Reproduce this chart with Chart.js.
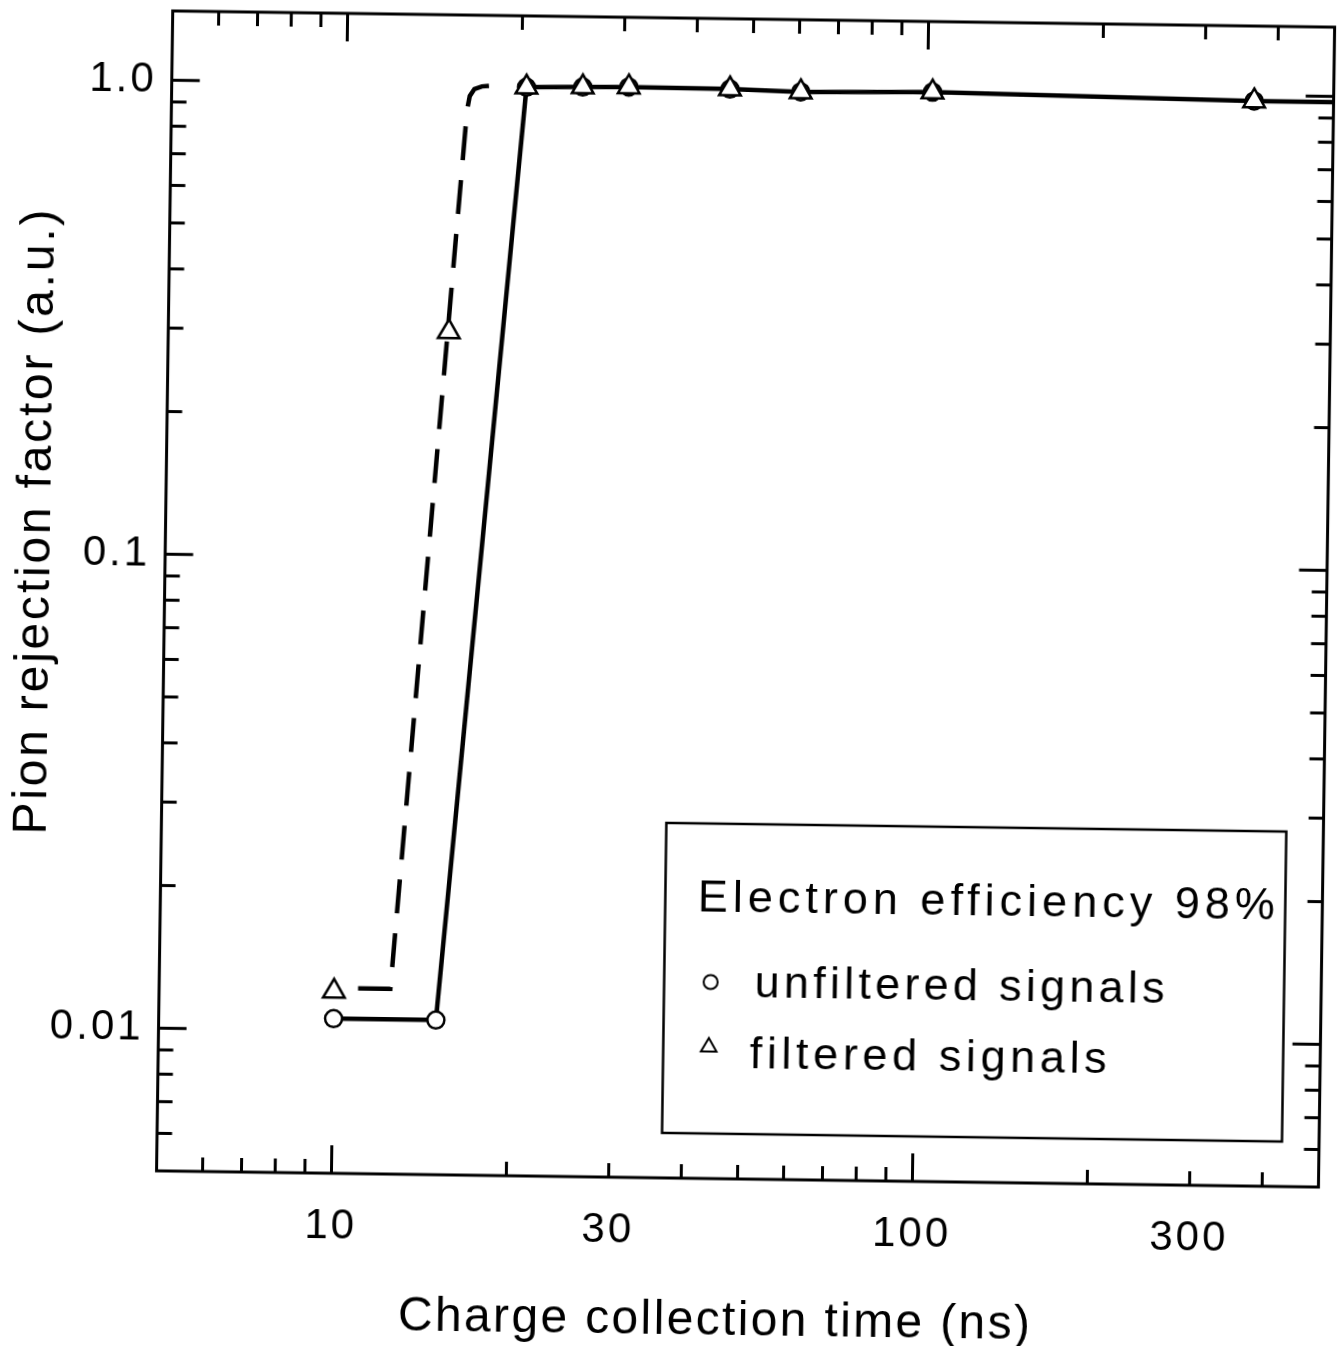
<!DOCTYPE html>
<html><head><meta charset="utf-8">
<script src="https://cdn.jsdelivr.net/npm/chart.js@4.4.1/dist/chart.umd.min.js"></script>
<style>
html,body{margin:0;padding:0;background:#fff;overflow:hidden;}
#wrap{position:absolute;left:0;top:0;width:1337px;height:1346px;transform:rotate(0.8deg);transform-origin:745px 599px;}
canvas{display:block;}
</style></head><body>
<div id="wrap"><canvas id="c" width="1337" height="1346"></canvas></div>
<script>
// ---- texts ----
const xAxisTitle = 'Charge collection time (ns)';
const yAxisTitle = 'Pion rejection factor (a.u.)';
const legendTitle = 'Electron efficiency 98%';
const seriesNames = ['unfiltered signals', 'filtered signals'];

// ---- measured points ----
const unfilteredTime      = [10, 15, 20.4, 25.5, 30.6, 45.7, 60.5, 102, 365];
const unfilteredRejection = [0.0106, 0.0106, 0.99, 0.995, 0.998, 0.995, 0.986, 0.994, 0.973];
const filteredTime        = [10, 15.2, 20.4, 25.5, 30.6, 45.7, 60.5, 102, 365];
const filteredRejection   = [0.0121, 0.30, 0.99, 0.995, 0.998, 0.995, 0.986, 0.994, 0.973];

// ---- drawn curves (vertices) ----
const solidCurveTime       = [10, 15, 20.4, 25.5, 30.6, 45.7, 60.5, 102, 365, 500];
const solidCurveRejection  = [0.0106, 0.0106, 0.99, 0.995, 0.998, 0.995, 0.986, 0.994, 0.973, 0.972];
const dashedCurveTime      = [11.0, 12.5, 16.14, 16.3, 16.6, 17.1, 18.2];
const dashedCurveRejection = [0.0123, 0.0123, 0.883, 0.945, 0.978, 0.991, 0.9975];

// ---- axes ----
const xTickValues = [10, 30, 100, 300];
const xTickLabels = ['10', '30', '100', '300'];
const yTickValues = [0.01, 0.1, 1];
const yTickLabels = ['0.01', '0.1', '1.0'];
const xMajorTicks = [10, 100];
const xMinorTicks = [6, 7, 8, 9, 20, 30, 40, 50, 60, 70, 80, 90, 200, 300, 400];
const yMajorTicks = [0.01, 0.1, 1];
const yMinorTicks = [0.006, 0.007, 0.008, 0.009, 0.02, 0.03, 0.04, 0.05, 0.06, 0.07, 0.08, 0.09,
                     0.2, 0.3, 0.4, 0.5, 0.6, 0.7, 0.8, 0.9];

const FONT = "'Liberation Sans', Arial, sans-serif";
const toXY = (xs, ys) => xs.map((x, i) => ({x: x, y: ys[i]}));

function spacedText(ctx, text, x, y, target, font, align) {
  ctx.font = font;
  if ('letterSpacing' in ctx) ctx.letterSpacing = '0px';
  const natural = ctx.measureText(text).width;
  const start = align === 'center' ? x - target / 2 : x;
  ctx.textAlign = 'left';
  ctx.textBaseline = 'alphabetic';
  if ('letterSpacing' in ctx) {
    const ls = (target - natural) / (text.length - 1);
    ctx.letterSpacing = ls + 'px';
    ctx.fillText(text, start, y);
    ctx.letterSpacing = '0px';
  } else {
    ctx.save();
    ctx.translate(start, y);
    ctx.scale(target / natural, 1);
    ctx.fillText(text, 0, 0);
    ctx.restore();
  }
}

const framePlugin = {
  id: 'frame',
  beforeDraw(chart) { if ('letterSpacing' in chart.ctx) chart.ctx.letterSpacing = '3px'; },
  afterDraw(chart) {
    const {ctx, chartArea: a, scales: {x, y}} = chart;
    ctx.save();
    if ('letterSpacing' in ctx) ctx.letterSpacing = '0px';
    ctx.strokeStyle = '#000';
    ctx.fillStyle = '#000';
    ctx.lineWidth = 3;
    ctx.lineCap = 'butt';
    ctx.strokeRect(a.left, a.top, a.right - a.left, a.bottom - a.top);
    const seg = (x1, y1, x2, y2) => { ctx.beginPath(); ctx.moveTo(x1, y1); ctx.lineTo(x2, y2); ctx.stroke(); };
    xMajorTicks.forEach(v => { const p = x.getPixelForValue(v); seg(p, a.bottom, p, a.bottom - 28); seg(p, a.top, p, a.top + 28); });
    xMinorTicks.forEach(v => { const p = x.getPixelForValue(v); seg(p, a.bottom, p, a.bottom - 14); seg(p, a.top, p, a.top + 14); });
    yMajorTicks.forEach(v => { const p = y.getPixelForValue(v); seg(a.left, p, a.left + 28, p); seg(a.right, p, a.right - 28, p); });
    yMinorTicks.forEach(v => { const p = y.getPixelForValue(v); seg(a.left, p, a.left + 15, p); seg(a.right, p, a.right - 15, p); });

    // axis titles
    spacedText(ctx, xAxisTitle, 724, 1335, 632, '48px ' + FONT, 'center');
    ctx.save();
    ctx.translate(49, 532);
    ctx.rotate(-Math.PI / 2);
    spacedText(ctx, yAxisTitle, 0, 0, 625, '48px ' + FONT, 'center');
    ctx.restore();

    // legend box
    ctx.lineWidth = 2.5;
    ctx.fillStyle = '#fff';
    ctx.fillRect(669.5, 824, 620, 310);
    ctx.strokeRect(669.5, 824, 620, 310);
    ctx.fillStyle = '#000';
    spacedText(ctx, legendTitle, 702, 912, 577, '45px ' + FONT, 'left');
    spacedText(ctx, seriesNames[0], 760, 997, 410, '45px ' + FONT, 'left');
    spacedText(ctx, seriesNames[1], 756, 1068, 357, '45px ' + FONT, 'left');
    ctx.lineWidth = 2;
    ctx.beginPath(); ctx.arc(716, 982.5, 7, 0, Math.PI * 2); ctx.stroke();
    const r = 9, cx = 715, cy = 1047.5;
    ctx.beginPath();
    for (let k = 0; k < 3; k++) {
      const ang = k * 2 * Math.PI / 3;
      const px = cx + Math.sin(ang) * r, py = cy - Math.cos(ang) * r;
      if (k === 0) ctx.moveTo(px, py); else ctx.lineTo(px, py);
    }
    ctx.closePath(); ctx.stroke();
    ctx.restore();
  }
};

new Chart(document.getElementById('c'), {
  type: 'scatter',
  data: {
    datasets: [
      { label: 'unfiltered curve', data: toXY(solidCurveTime, solidCurveRejection), showLine: true,
        borderColor: '#000', borderWidth: 4.5, pointRadius: 0, tension: 0, order: 3 },
      { label: 'filtered curve', data: toXY(dashedCurveTime, dashedCurveRejection), showLine: true,
        borderColor: '#000', borderWidth: 4.5, borderDash: [34, 20], pointRadius: 0, tension: 0, order: 3 },
      { label: seriesNames[0], data: toXY(unfilteredTime, unfilteredRejection), showLine: false,
        pointStyle: 'circle', pointRadius: 8.5, pointBorderWidth: 2.5, pointBorderColor: '#000',
        pointBackgroundColor: '#fff', order: 2 },
      { label: seriesNames[1], data: toXY(filteredTime, filteredRejection), showLine: false,
        pointStyle: 'triangle', pointRadius: 12.5, pointBorderWidth: 2.5, pointBorderColor: '#000',
        pointBackgroundColor: '#fff', order: 1 }
    ]
  },
  options: {
    responsive: false,
    animation: false,
    devicePixelRatio: 1,
    events: [],
    layout: { autoPadding: false, padding: { top: 19, right: 10.4, bottom: 0, left: 0 } },
    plugins: { legend: { display: false }, tooltip: { enabled: false }, title: { display: false } },
    scales: {
      x: {
        type: 'logarithmic', min: 5, max: 500, position: 'bottom',
        grid: { display: false, drawTicks: false }, border: { display: false },
        afterBuildTicks: s => { s.ticks = xTickValues.map(v => ({ value: v })); },
        afterFit: s => { s.height = 167; s.paddingLeft = 0; s.paddingRight = 0; },
        ticks: { autoSkip: false, maxRotation: 0, minRotation: 0, padding: 28, color: '#000',
                 font: { family: FONT, size: 42 }, callback: (v, i) => xTickLabels[i] }
      },
      y: {
        type: 'logarithmic', min: 0.005, max: 1.4, position: 'left',
        grid: { display: false, drawTicks: false }, border: { display: false },
        afterBuildTicks: s => { s.ticks = yTickValues.map(v => ({ value: v })); },
        afterFit: s => { s.width = 164.6; s.paddingTop = 0; s.paddingBottom = 0; },
        ticks: { autoSkip: false, padding: 15, color: '#000',
                 font: { family: FONT, size: 42 }, callback: (v, i) => yTickLabels[i] }
      }
    }
  },
  plugins: [framePlugin]
});
</script>
</body></html>
